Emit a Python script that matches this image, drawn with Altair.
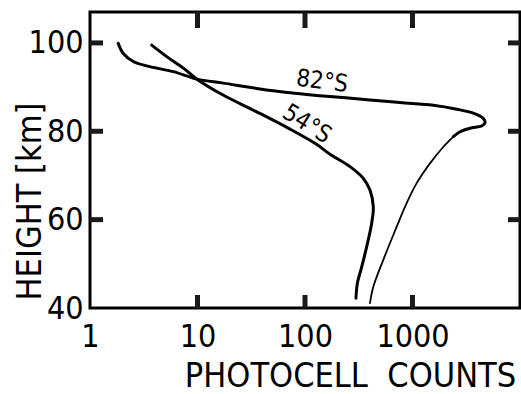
import altair as alt
import pandas as pd

FONT = "DejaVu Sans Condensed, DejaVu Sans, sans-serif"

# 82°S profile (photocell counts vs height in km)
counts_82 = [1.83, 2.04, 2.53, 3.37, 5.96, 9.9, 17.4, 35.6, 72.5, 148, 402, 765, 1560, 2580, 3680,
             4560, 4725, 4400, 3430, 2770, 2400, 1940, 1460, 1090, 851, 713, 535, 432, 402]
height_82 = [99.9, 97.6, 95.8, 94.8, 93.5, 91.8, 90.9, 89.7, 88.7, 88.0, 87.1, 86.5, 85.9, 85.0, 84.1,
             82.9, 81.9, 81.2, 80.7, 79.9, 78.8, 76.5, 72.8, 68.2, 62.9, 58.4, 50.9, 44.8, 41.1]
# 54°S profile
counts_54 = [3.75, 5.17, 7.38, 9.9, 17.3, 35.6, 72.5, 127, 171, 262, 347, 402, 432, 417, 375, 337, 307, 298]
height_54 = [99.5, 96.9, 94.3, 91.8, 88.2, 84.4, 80.5, 77.1, 74.8, 72.0, 69.4, 66.7, 62.9, 59.2, 53.9,
             49.3, 45.6, 42.2]

x_labels = [1, 10, 100, 1000]
y_labels = [40, 60, 80, 100]
x_ticks = [10, 100, 1000]
y_ticks = [60, 80, 100]
label_text = ["82°S", "54°S"]
label_counts = [144, 104]
label_height = [91.2, 81.6]

X_MIN, X_MAX = 1, 10000
Y_MIN, Y_MAX = 40, 107
THICK_END = 20  # index where the thick upper branch of 82°S ends

W, H = 430, 296
PX_PER_KM = H / (Y_MAX - Y_MIN)
PX_PER_DEC = W / 4.0

df82 = pd.DataFrame({"counts": counts_82, "height": height_82, "idx": list(range(len(counts_82)))})
df54 = pd.DataFrame({"counts": counts_54, "height": height_54, "idx": list(range(len(counts_54)))})
dfl = pd.DataFrame({"counts": label_counts, "height": label_height, "text": label_text})

# inward tick marks on all four sides of the frame (lengths in pixels converted to data units)
top_len = 16 / PX_PER_KM
bot_len = 13 / PX_PER_KM
left_f = 10 ** (13 / PX_PER_DEC)
right_f = 10 ** (12 / PX_PER_DEC)
tick_rows = []
for v in x_ticks:
    tick_rows += [(v, Y_MAX, f"top{v}"), (v, Y_MAX - top_len, f"top{v}")]
    tick_rows += [(v, Y_MIN, f"bot{v}"), (v, Y_MIN + bot_len, f"bot{v}")]
for v in y_ticks:
    tick_rows += [(X_MIN, v, f"left{v}"), (X_MIN * left_f, v, f"left{v}")]
    tick_rows += [(X_MAX, v, f"right{v}"), (X_MAX / right_f, v, f"right{v}")]
dft = pd.DataFrame(tick_rows, columns=["counts", "height", "tid"])

xscale = alt.Scale(type="log", domain=[X_MIN, X_MAX], nice=False)
yscale = alt.Scale(domain=[Y_MIN, Y_MAX], nice=False, zero=False)

x_bottom = alt.Axis(orient="bottom", values=x_labels, format="d", ticks=False, domain=False, grid=False,
                    labelFont=FONT, labelFontSize=32, labelColor="black", labelPadding=13,
                    labelFlush=False, labelOverlap=False,
                    title="PHOTOCELL\u00a0\u00a0COUNTS", titleFont=FONT, titleFontSize=34,
                    titleFontWeight="normal", titleColor="black", titleX=260, titleY=68,
                    titleBaseline="middle", titleAlign="center")
y_left = alt.Axis(orient="left", values=y_labels, format="d", ticks=False, domain=False, grid=False,
                  labelFont=FONT, labelFontSize=32, labelColor="black", labelPadding=7,
                  labelFlush=False, labelOverlap=False,
                  title="HEIGHT [km]", titleFont=FONT, titleFontSize=34, titleFontWeight="normal",
                  titleColor="black", titleX=-60, titleY=189, titleBaseline="middle", titleAlign="center")

X = alt.X("counts:Q", scale=xscale, axis=x_bottom)
Y = alt.Y("height:Q", scale=yscale, axis=y_left)

ticks = alt.Chart(dft).mark_line(color="#1a1a1a", strokeWidth=5).encode(
    x=X, y=Y, detail="tid:N")

upper82 = alt.Chart(df82).transform_filter(alt.datum.idx <= THICK_END).mark_line(
    color="black", strokeWidth=3, interpolate="catmull-rom", strokeCap="round").encode(
    x=X, y=Y, order="idx:Q")

lower82 = alt.Chart(df82).transform_filter(alt.datum.idx >= THICK_END).mark_line(
    color="black", strokeWidth=1.8, interpolate="catmull-rom", strokeCap="round").encode(
    x=X, y=Y, order="idx:Q")

line54 = alt.Chart(df54).mark_line(
    color="black", strokeWidth=3, interpolate="catmull-rom", strokeCap="round").encode(
    x=X, y=Y, order="idx:Q")

lab82 = alt.Chart(dfl).transform_filter(alt.datum.text == "82°S").mark_text(
    font=FONT, fontSize=24, angle=7, color="black").encode(x=X, y=Y, text="text:N")

lab54 = alt.Chart(dfl).transform_filter(alt.datum.text == "54°S").mark_text(
    font=FONT, fontSize=24, angle=32, color="black").encode(x=X, y=Y, text="text:N")

chart = alt.layer(ticks, upper82, lower82, line54, lab82, lab54).properties(
    width=W, height=H,
    autosize=alt.AutoSizeParams(type="none"),
    padding={"left": 90, "top": 12, "right": 1, "bottom": 86},
    background="white",
).configure_view(stroke="black", strokeWidth=3)

chart.save("out.html", embed_options={"renderer": "svg", "actions": False})
